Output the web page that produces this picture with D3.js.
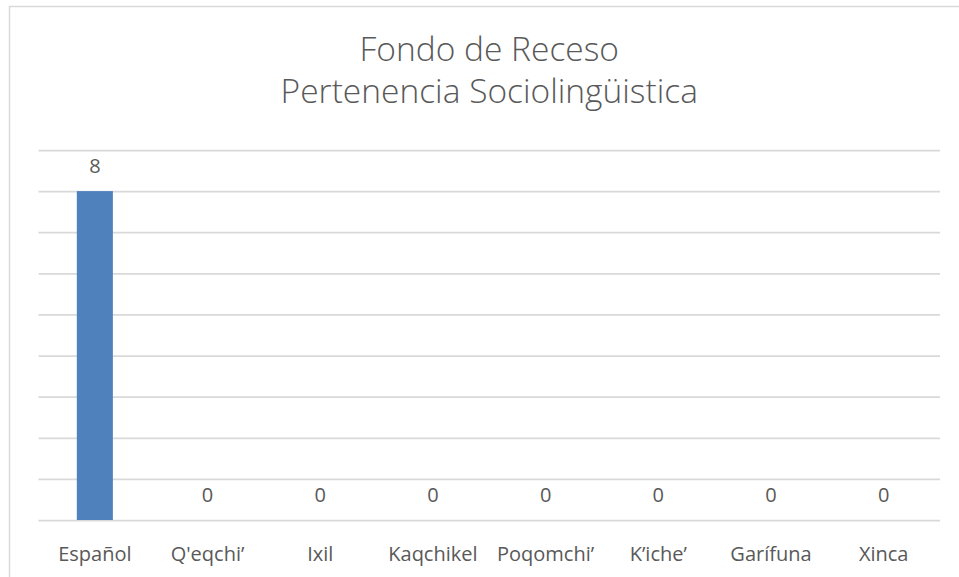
<!DOCTYPE html>
<html>
<head>
<meta charset="utf-8">
<script src="https://cdn.jsdelivr.net/npm/d3@7"></script>
<style>
  body { margin: 0; background: #fff; overflow: hidden; }
  svg { display: block; }
  text { font-family: "Open Sans", sans-serif; fill: #595959; }
</style>
</head>
<body>
<div id="chartContainer"></div>
<script>
// Chart data
const categories = ["Español", "Q'eqchi’", "Ixil", "Kaqchikel", "Poqomchi’", "K’iche’", "Garífuna", "Xinca"];
const values = [8, 0, 0, 0, 0, 0, 0, 0];
const yTicks = [0, 1, 2, 3, 4, 5, 6, 7, 8, 9];
const titleLines = ["Fondo de Receso", "Pertenencia Sociolingüistica"];

const w = 959;
const h = 577;
const margins = { top: 150, left: 38.5, bottom: 57, right: 19 };
const innerWidth = w - margins.left - margins.right;
const innerHeight = h - margins.top - margins.bottom;

const svg = d3.select("#chartContainer")
  .append("svg")
    .attr("width", w)
    .attr("height", h);

// Chart frame (only top and left edges are inside the picture)
svg.append("path")
  .attr("d", `M9.5,${h} V6.5 H${w}`)
  .attr("fill", "none")
  .attr("stroke", "#d9d9d9")
  .attr("stroke-width", 1.5);

// Title
svg.append("g")
  .selectAll("text")
  .data(titleLines)
  .enter()
  .append("text")
    .attr("x", margins.left + innerWidth / 2)
    .attr("y", (d, i) => 61 + i * 42)
    .attr("text-anchor", "middle")
    .attr("font-size", 33.5)
    .attr("font-weight", 300)
    .text(d => d);

const mainG = svg.append("g")
  .attr("transform", `translate(${margins.left}, ${margins.top})`);

const xScale = d3.scaleBand()
  .domain(categories)
  .range([0, innerWidth])
  .paddingInner(0.68)
  .paddingOuter(0.34);

const yScale = d3.scaleLinear()
  .domain([0, d3.max(yTicks)])
  .range([innerHeight, 0]);

// Gridlines
mainG.append("g")
  .attr("class", "grid")
  .call(d3.axisLeft(yScale).tickValues(yTicks).tickSize(-innerWidth).tickFormat(""))
  .call(g => g.select(".domain").remove())
  .call(g => g.selectAll("line").attr("stroke", "#d9d9d9").attr("stroke-width", 1.75));

// Category labels
mainG.append("g")
  .selectAll("text")
  .data(categories)
  .enter()
  .append("text")
    .attr("x", d => xScale(d) + xScale.bandwidth() / 2)
    .attr("y", innerHeight + 41)
    .attr("text-anchor", "middle")
    .attr("font-size", 20)
    .text(d => d);

// Bars
mainG.selectAll(".bar")
  .data(values)
  .enter()
  .append("rect")
    .attr("class", "bar")
    .attr("x", (d, i) => xScale(categories[i]))
    .attr("y", d => yScale(d))
    .attr("width", xScale.bandwidth())
    .attr("height", d => innerHeight - yScale(d))
    .attr("fill", "#4f81bd");

// Bar labels
mainG.selectAll(".label")
  .data(values)
  .enter()
  .append("text")
    .attr("class", "label")
    .attr("x", (d, i) => xScale(categories[i]) + xScale.bandwidth() / 2)
    .attr("y", d => yScale(d) - 18)
    .attr("text-anchor", "middle")
    .attr("font-size", 20)
    .text(d => d);
</script>
</body>
</html>
